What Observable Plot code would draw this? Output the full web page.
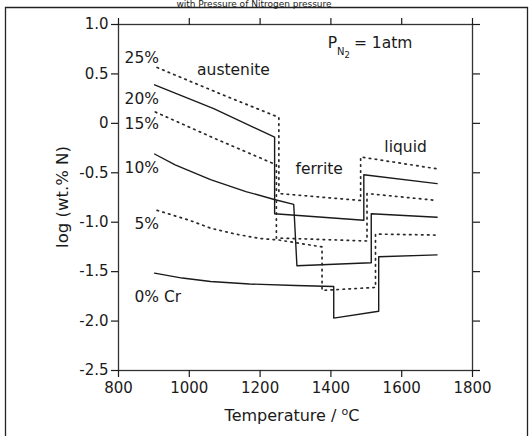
<!DOCTYPE html>
<html><head><meta charset="utf-8">
<script src="https://cdn.jsdelivr.net/npm/d3@7"></script>
<script src="https://cdn.jsdelivr.net/npm/@observablehq/plot@0.6"></script>
<style>
html,body{margin:0;padding:0;background:#fff;}
#chart{position:relative;width:531px;height:436px;overflow:hidden;background:#fff;}
#chart svg{position:absolute;left:0;top:0;}
</style></head><body><div id="chart"></div>
<script>
// Series (Cr content), line style per series
const seriesNames = ["0% Cr", "5%", "10%", "15%", "20%", "25%"];
const seriesStyle = ["solid", "dotted", "solid", "dotted", "solid", "dotted"];

// Temperature (°C) and log(wt.% N) per series: austenite -> ferrite -> liquid
const temp0 = [902, 980, 1060, 1170, 1300, 1408, 1408, 1535, 1535, 1700];
const logN0 = [-1.515, -1.565, -1.60, -1.625, -1.64, -1.65, -1.97, -1.90, -1.35, -1.33];

const temp5 = [909, 1000, 1060, 1130, 1200, 1253, 1375, 1375, 1526, 1526, 1700];
const logN5 = [-0.88, -0.98, -1.06, -1.12, -1.165, -1.18, -1.25, -1.69, -1.66, -1.12, -1.13];

const temp10 = [902, 960, 1060, 1160, 1240, 1295, 1304, 1514, 1514, 1700];
const logN10 = [-0.31, -0.42, -0.57, -0.69, -0.77, -0.82, -1.44, -1.41, -0.915, -0.95];

const temp15 = [904, 1070, 1246, 1246, 1502, 1502, 1700];
const logN15 = [0.115, -0.15, -0.42, -1.16, -1.19, -0.71, -0.78];

const temp20 = [902, 1069, 1241, 1241, 1493, 1493, 1700];
const logN20 = [0.39, 0.15, -0.14, -0.915, -0.98, -0.52, -0.61];

const temp25 = [909, 1080, 1253, 1253, 1484, 1484, 1700];
const logN25 = [0.565, 0.31, 0.06, -0.71, -0.78, -0.34, -0.46];

// Axis ticks
const xTicks = [800, 1000, 1200, 1400, 1600, 1800];
const yTicks = [1.0, 0.5, 0, -0.5, -1.0, -1.5, -2.0, -2.5];

// In-chart annotations (data coordinates)
const labelText = ["25%", "20%", "15%", "10%", "5%", "0% Cr", "austenite", "ferrite", "liquid"];
const labelTemp = [817, 817, 817, 817, 845, 845, 1022, 1300, 1551];
const labelLogN = [0.656, 0.243, -0.002, -0.451, -1.014, -1.757, 0.537, -0.465, -0.242];

const temps = [temp0, temp5, temp10, temp15, temp20, temp25];
const logNs = [logN0, logN5, logN10, logN15, logN20, logN25];
const rows = seriesNames.flatMap((s, i) =>
  temps[i].map((t, j) => ({series: s, style: seriesStyle[i], t, n: logNs[i][j]})));
const labels = labelText.map((txt, i) => ({txt, t: labelTemp[i], n: labelLogN[i]}));

const FONT = "'DejaVu Sans', 'Liberation Sans', Arial, sans-serif";
const fmtY = d => d === 0 ? "0" : d.toFixed(1);
const fmtX = d => String(d);

const plot = Plot.plot({
  width: 531, height: 436,
  marginLeft: 118, marginRight: 59, marginTop: 24, marginBottom: 66,
  x: {domain: [800, 1800]},
  y: {domain: [-2.5, 1.0]},
  style: {fontFamily: FONT, fontSize: "15px", color: "#1a1a1a", background: "#fff"},
  marks: [
    Plot.frame({stroke: "#333", strokeWidth: 1.3}),
    Plot.axisY(yTicks, {anchor: "left", tickSize: 7, tickPadding: 3, tickFormat: fmtY, label: null, strokeWidth: 1.2}),
    Plot.axisY(yTicks, {anchor: "right", tickSize: 7, tickFormat: () => "", label: null, strokeWidth: 1.2}),
    Plot.axisX(xTicks, {anchor: "bottom", tickSize: 7, tickPadding: 5, tickFormat: fmtX, label: null, strokeWidth: 1.2}),
    Plot.axisX(xTicks, {anchor: "top", tickSize: 7, tickFormat: () => "", label: null, strokeWidth: 1.2}),
    Plot.line(rows.filter(d => d.style === "solid"), {x: "t", y: "n", z: "series", stroke: "#1a1a1a", strokeWidth: 1.4}),
    Plot.line(rows.filter(d => d.style === "dotted"), {x: "t", y: "n", z: "series", stroke: "#2a2a2a", strokeWidth: 1.7, strokeDasharray: "1.5,4.5"}),
    Plot.text(labels, {x: "t", y: "n", text: "txt", textAnchor: "start", lineAnchor: "middle", fontSize: 15.5, fill: "#1a1a1a"})
  ]
});

document.getElementById("chart").appendChild(plot);
const svg = d3.select(plot);
const xs = plot.scale("x"), ys = plot.scale("y");

// outer figure frame
svg.append("path").attr("d", "M5.5,440 V7.5 H527.5 V440").attr("fill", "none").attr("stroke", "#222").attr("stroke-width", 1.3);

// title line at the very top (mostly cut off in the source figure)
svg.append("text").attr("x", 254).attr("y", 6.5).attr("text-anchor", "middle")
  .style("font-family", FONT).style("font-size", "9px").attr("fill", "#222")
  .text("with Pressure of Nitrogen pressure");

// P_N2 = 1atm
const pt = svg.append("text").attr("x", xs.apply(1512)).attr("y", ys.apply(0.755))
  .style("font-family", FONT).style("font-size", "15.5px").attr("fill", "#1a1a1a");
pt.append("tspan").text("P");
pt.append("tspan").attr("dy", 7).style("font-size", "10px").text("N");
pt.append("tspan").attr("dy", 3).style("font-size", "8.5px").text("2");
pt.append("tspan").attr("dy", -10).attr("dx", 4).text("= 1atm");

// x axis label with superscript o
const xl = svg.append("text").attr("x", 292).attr("y", 421).attr("text-anchor", "middle")
  .style("font-family", FONT).style("font-size", "16px").attr("fill", "#1a1a1a");
xl.append("tspan").text("Temperature / ");
xl.append("tspan").attr("dy", -6).style("font-size", "11px").text("o");
xl.append("tspan").attr("dy", 6).text("C");

// y axis label
svg.append("text").attr("transform", "translate(68,197) rotate(-90)").attr("text-anchor", "middle")
  .style("font-family", FONT).style("font-size", "16.5px").attr("fill", "#1a1a1a")
  .text("log (wt.% N)");
</script></body></html>
